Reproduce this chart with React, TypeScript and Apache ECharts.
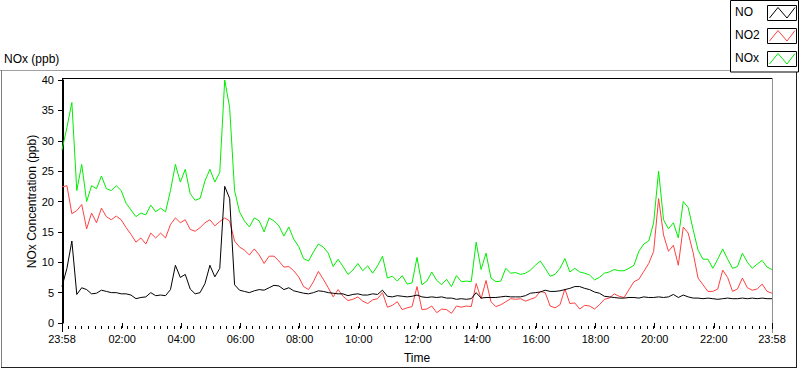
import React, { useEffect, useRef } from "react";
import * as echarts from "echarts";

// Time axis in minutes since midnight; the record runs from 23:58 (previous day) to 23:58.
const START_MIN = -2;
const STEP_MIN = 10;
const END_MIN = 1438;

const seriesNames = ["NO", "NO2", "NOx"];
const seriesColors = ["#000000", "#ff4040", "#00ee00"];

const noValues = [
  6.0, 9.0, 13.5, 4.7, 5.8, 5.5, 4.8, 4.9, 5.4, 5.2, 5.0, 5.0, 4.8, 4.8, 4.6, 4.0, 4.2, 4.3, 5.0, 4.5,
  4.6, 4.5, 5.5, 9.5, 7.5, 8.0, 5.6, 4.8, 5.0, 6.5, 9.5, 7.6, 9.0, 22.5, 20.5, 6.3, 5.4, 5.2, 5.0, 5.3,
  5.5, 5.4, 5.8, 6.2, 6.1, 5.5, 5.8, 5.3, 5.1, 4.9, 4.8, 5.0, 5.3, 5.2, 5.0, 4.9, 4.8, 4.8, 4.5, 4.7,
  4.8, 4.6, 4.6, 4.8, 4.7, 5.4, 4.4, 4.3, 4.5, 4.4, 4.3, 4.4, 4.6, 4.3, 4.2, 4.3, 4.2, 4.3, 4.1, 4.1,
  3.9, 4.0, 3.9, 4.0, 5.0, 4.1, 4.2, 4.2, 4.2, 4.3, 4.4, 4.3, 4.3, 4.3, 4.5, 4.9, 5.0, 5.1, 5.4, 5.2,
  5.2, 5.3, 5.5, 5.7, 6.0, 6.0, 5.7, 5.5, 5.1, 4.9, 4.4, 4.3, 4.2, 4.1, 4.1, 4.2, 4.2, 4.1, 4.3, 4.2,
  4.2, 4.3, 4.2, 4.3, 4.7, 4.2, 4.6, 4.3, 4.1, 4.1, 4.0, 4.1, 4.0, 3.9, 4.0, 4.1, 4.0, 4.0, 4.1, 4.0,
  4.1, 4.0, 4.1, 4.0, 4.0,
];

const no2Values = [
  22.4, 22.6, 18.0, 18.5, 19.5, 15.5, 18.1, 16.5, 18.9, 17.5, 17.0, 17.6, 17.0, 15.7, 14.6, 13.3, 14.0, 13.0, 14.8, 14.0,
  14.8, 14.0, 16.2, 17.3, 16.5, 17.0, 15.4, 15.1, 15.7, 16.5, 17.0, 16.0, 16.7, 17.3, 16.8, 13.5, 12.5, 12.0, 11.2, 12.2,
  11.2, 9.8, 11.0, 11.0, 10.2, 9.2, 9.3, 8.6, 7.6, 6.0, 5.5, 6.8, 8.5, 7.2, 5.8, 4.3, 5.5, 4.4, 3.7, 3.9,
  4.3, 3.6, 3.2, 3.8, 4.0, 5.0, 2.6, 2.9, 3.5, 2.2, 2.5, 2.7, 6.0, 2.2, 2.3, 2.8, 1.7, 2.3, 2.2, 1.6,
  2.8, 2.6, 2.8, 2.7, 6.5, 4.0, 7.0, 3.5, 2.7, 3.0, 3.5, 4.0, 3.9, 4.0, 3.6, 3.9, 4.2, 5.2, 5.0, 2.8,
  2.5, 3.0, 5.6, 3.2, 3.3, 2.3, 2.9, 2.8, 2.3, 3.0, 3.9, 4.1, 4.8, 4.4, 4.2, 5.5, 6.8, 7.2, 8.5, 9.8,
  11.8, 20.5, 14.5, 11.8, 12.8, 9.5, 15.8, 14.8, 11.6, 7.4, 6.3, 5.2, 5.2, 5.6, 8.7, 7.5, 5.2, 5.6, 7.4, 5.8,
  5.4, 5.6, 6.4, 5.2, 4.9,
];

const noxValues = [
  28.5, 32.2, 36.3, 21.8, 26.1, 20.0, 22.6, 22.1, 24.2, 22.1, 21.8, 22.6, 21.8, 19.7, 18.6, 17.5, 18.1, 17.8, 19.4, 18.3,
  18.9, 18.3, 21.8, 26.1, 23.2, 25.3, 21.3, 20.2, 20.5, 23.4, 25.3, 23.2, 24.8, 40.0, 35.5, 21.8, 18.3, 16.8, 15.8, 17.3,
  16.8, 15.0, 17.3, 16.8, 16.0, 14.3, 15.8, 13.8, 12.6, 10.6, 10.2, 11.7, 13.0, 12.5, 11.5, 9.3, 10.5, 9.3, 8.0, 8.7,
  9.8, 8.6, 9.4, 8.2, 9.4, 11.0, 7.4, 7.7, 6.9, 7.8, 6.4, 6.6, 10.8, 6.3, 6.9, 8.4, 7.0, 6.3, 7.2, 6.0,
  7.8, 6.8, 6.9, 6.8, 13.3, 8.8, 11.5, 7.4, 6.8, 6.9, 9.0, 8.2, 8.3, 8.0, 8.2, 8.7, 9.5, 10.2, 9.0, 7.7,
  8.0, 9.0, 10.6, 8.4, 9.0, 8.4, 8.2, 7.9, 7.1, 7.5, 8.2, 8.4, 8.8, 8.6, 8.6, 9.0, 9.5, 11.8, 13.0, 13.5,
  16.5, 25.0, 17.0, 15.5, 16.5, 14.0, 20.0, 19.0, 15.4, 12.0, 10.5, 10.5, 9.0, 10.5, 12.2, 10.5, 9.0, 9.3, 11.5, 10.0,
  9.0, 9.7, 10.3, 9.2, 8.8,
];

const majorTickMinutes = [-2, 120, 240, 360, 480, 600, 720, 840, 960, 1080, 1200, 1320, 1438];
const MINOR_TICK_STEP = 40 / 3; // 9 minor divisions per 2 hours

const FONT = "'Liberation Sans', Arial, sans-serif";

function formatMinutes(v: number): string {
  const m = ((Math.round(v) % 1440) + 1440) % 1440;
  const h = Math.floor(m / 60);
  const mm = m % 60;
  return `${String(h).padStart(2, "0")}:${String(mm).padStart(2, "0")}`;
}

function toPairs(vals: number[]) {
  return vals.map((v, i) => [START_MIN + i * STEP_MIN, v]);
}

function legendItem(i: number, y: number) {
  const bx = 767;
  const by = y;
  return [
    {
      type: "text",
      left: 735,
      top: by + 1,
      style: { text: seriesNames[i], fontSize: 12, fontFamily: FONT, fill: "#000" },
      z: 101,
    },
    {
      type: "rect",
      shape: { x: bx + 0.5, y: by + 0.5, width: 29, height: 15 },
      style: { fill: "#fff", stroke: "#000", lineWidth: 1 },
      z: 101,
    },
    {
      type: "polyline",
      shape: {
        points: [
          [bx + 2.5, by + 13],
          [bx + 11, by + 2.5],
          [bx + 20, by + 13],
          [bx + 28, by + 2.5],
        ],
      },
      style: { stroke: seriesColors[i], lineWidth: 1, fill: null },
      z: 102,
    },
  ];
}

export default function App() {
  const ref = useRef<HTMLDivElement>(null);

  useEffect(() => {
    if (!ref.current) return;
    const chart = echarts.init(ref.current, undefined, { renderer: "svg" });

    const tickLine = { color: "#000", width: 1 };

    const option: any = {
      animation: false,
      backgroundColor: "#ffffff",
      textStyle: { fontFamily: FONT },
      grid: { left: 62, top: 80, width: 710, height: 249, show: false },
      xAxis: [
        {
          type: "value",
          min: START_MIN,
          max: END_MIN,
          position: "bottom",
          offset: 3,
          axisLine: { show: true, lineStyle: { color: "#000", opacity: 0 } },
          splitLine: { show: false },
          axisTick: { show: true, length: 5, lineStyle: tickLine, customValues: majorTickMinutes },
          axisLabel: {
            show: true,
            customValues: majorTickMinutes,
            formatter: (v: number) => formatMinutes(v),
            color: "#000",
            fontSize: 11,
            fontFamily: FONT,
            margin: 7,
          },
          name: "Time",
          nameLocation: "middle",
          nameGap: 26,
          nameMoveOverlap: false,
          nameTextStyle: { color: "#000", fontSize: 12, fontFamily: FONT },
        },
        {
          type: "value",
          min: 0,
          max: 1440,
          interval: MINOR_TICK_STEP,
          position: "bottom",
          offset: 3,
          axisLine: { show: true, lineStyle: { color: "#000", opacity: 0 } },
          splitLine: { show: false },
          axisTick: { show: true, length: 3, lineStyle: tickLine },
          axisLabel: { show: false },
        },
      ],
      yAxis: {
        type: "value",
        min: 0,
        max: 40,
        interval: 5,
        axisLine: { show: true, lineStyle: { color: "#000", width: 1 } },
        axisTick: { show: true, length: 5, lineStyle: tickLine },
        splitLine: { show: false },
        axisLabel: { color: "#000", fontSize: 11, fontFamily: FONT, margin: 8 },
        name: "NOx Concentration (ppb)",
        nameLocation: "middle",
        nameGap: 24,
        nameMoveOverlap: false,
        nameTextStyle: { color: "#000", fontSize: 12, fontFamily: FONT },
      },
      series: [
        {
          name: "NOx",
          type: "line",
          data: toPairs(noxValues),
          showSymbol: false,
          symbol: "none",
          lineStyle: { color: seriesColors[2], width: 1 },
          itemStyle: { color: seriesColors[2] },
          z: 2,
        },
        {
          name: "NO2",
          type: "line",
          data: toPairs(no2Values),
          showSymbol: false,
          symbol: "none",
          lineStyle: { color: seriesColors[1], width: 1 },
          itemStyle: { color: seriesColors[1] },
          z: 3,
        },
        {
          name: "NO",
          type: "line",
          data: toPairs(noValues),
          showSymbol: false,
          symbol: "none",
          lineStyle: { color: seriesColors[0], width: 1 },
          itemStyle: { color: seriesColors[0] },
          z: 4,
        },
      ],
      graphic: [
        {
          type: "text",
          left: 4,
          top: 53,
          style: { text: "NOx (ppb)", fontSize: 12, fontFamily: FONT, fill: "#000" },
        },
        // outer frame
        { type: "line", shape: { x1: 0, y1: 70.5, x2: 731, y2: 70.5 }, style: { stroke: "#a0a0a0", lineWidth: 1 } },
        { type: "line", shape: { x1: 1.5, y1: 70, x2: 1.5, y2: 368 }, style: { stroke: "#808080", lineWidth: 1 } },
        { type: "line", shape: { x1: 1, y1: 367.5, x2: 797, y2: 367.5 }, style: { stroke: "#202020", lineWidth: 1 } },
        { type: "line", shape: { x1: 796.5, y1: 72, x2: 796.5, y2: 368 }, style: { stroke: "#202020", lineWidth: 1 } },
        // plot frame
        { type: "line", shape: { x1: 62, y1: 78.5, x2: 773, y2: 78.5 }, style: { stroke: "#000", lineWidth: 1 } },
        { type: "line", shape: { x1: 62.5, y1: 78, x2: 62.5, y2: 332 }, style: { stroke: "#000", lineWidth: 1 } },
        { type: "line", shape: { x1: 772.5, y1: 78, x2: 772.5, y2: 333 }, style: { stroke: "#909090", lineWidth: 1 } },
        // legend box
        {
          type: "rect",
          shape: { x: 730.5, y: 0.5, width: 68, height: 71.5 },
          style: { fill: "#fff", stroke: "#000", lineWidth: 1 },
          z: 100,
        },
        ...legendItem(0, 5),
        ...legendItem(1, 28),
        ...legendItem(2, 51),
      ],
    };

    chart.setOption(option);
    return () => chart.dispose();
  }, []);

  return (
    <div
      ref={ref}
      style={{ position: "absolute", left: 0, top: 0, width: 800, height: 369 }}
    />
  );
}
